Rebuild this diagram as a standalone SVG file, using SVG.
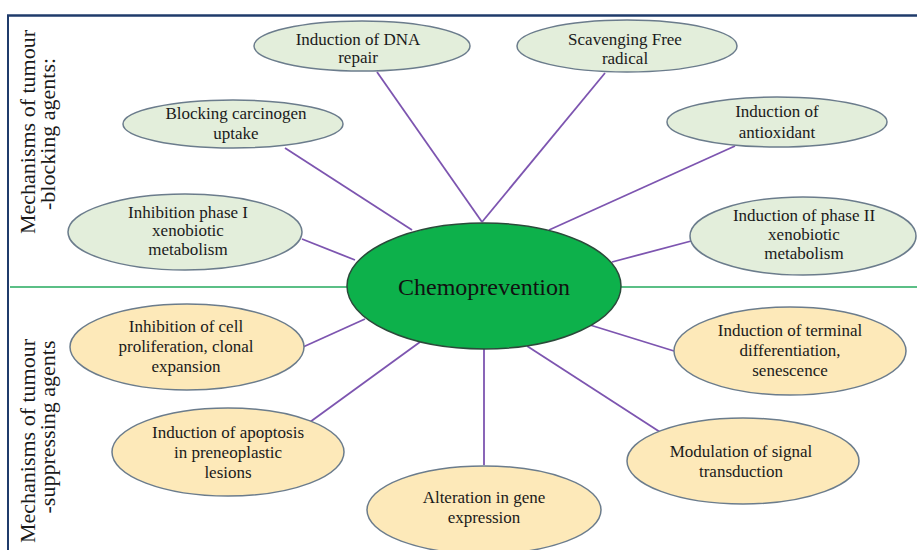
<svg xmlns="http://www.w3.org/2000/svg" width="917" height="550" viewBox="0 0 917 550">
<style>
.t{font-family:'Liberation Serif','DejaVu Serif',serif;font-size:17px;fill:#1a1a1a;text-anchor:middle}
.side{font-family:'Liberation Serif','DejaVu Serif',serif;font-size:22px;fill:#1a1a1a;text-anchor:middle}
.g{fill:#e3eedb;stroke:#6b7c8c;stroke-width:1.5}
.y{fill:#fde9b9;stroke:#6b7c8c;stroke-width:1.5}
.c line{stroke:#7d55b0;stroke-width:1.8}
</style>
<rect width="917" height="550" fill="#ffffff"/>
<g id="frame">
<line x1="7" y1="15.5" x2="917" y2="15.5" stroke="#1f3b6b" stroke-width="2.5"/>
<line x1="8" y1="15" x2="8" y2="550" stroke="#1f3b6b" stroke-width="2"/>
<line x1="10" y1="287" x2="917" y2="287" stroke="#5bbf86" stroke-width="2"/>
</g>
<g id="labels">
<text class="side" transform="translate(35,132) rotate(-90)">Mechanisms of tumour</text>
<text class="side" transform="translate(55,134) rotate(-90)">-blocking agents:</text>
<text class="side" transform="translate(35,441) rotate(-90)">Mechanisms of tumour</text>
<text class="side" transform="translate(55,427) rotate(-90)">-suppressing agents</text>
</g>
<g class="c" id="connectors">
<line x1="377" y1="72" x2="482" y2="222"/>
<line x1="605" y1="73" x2="482" y2="222"/>
<line x1="285" y1="148" x2="412" y2="230"/>
<line x1="735" y1="146" x2="549" y2="230"/>
<line x1="302" y1="239" x2="355" y2="260"/>
<line x1="695" y1="240" x2="612" y2="262"/>
<line x1="303" y1="347" x2="365" y2="319"/>
<line x1="310" y1="422" x2="420" y2="342"/>
<line x1="484" y1="348" x2="484" y2="465"/>
<line x1="590" y1="325" x2="674" y2="351"/>
<line x1="527" y1="346" x2="660" y2="432"/>
</g>
<g id="n-dna"><ellipse class="g" cx="362" cy="46" rx="108" ry="25"/><text class="t" x="358" y="45">Induction of DNA</text><text class="t" x="358" y="63">repair</text></g>
<g id="n-scav"><ellipse class="g" cx="627" cy="46" rx="110" ry="26"/><text class="t" x="625" y="45">Scavenging Free</text><text class="t" x="625" y="64">radical</text></g>
<g id="n-block"><ellipse class="g" cx="233" cy="124" rx="110" ry="24"/><text class="t" x="236" y="119">Blocking carcinogen</text><text class="t" x="236" y="139">uptake</text></g>
<g id="n-antiox"><ellipse class="g" cx="777" cy="122" rx="110" ry="25"/><text class="t" x="777" y="117">Induction of</text><text class="t" x="777" y="138">antioxidant</text></g>
<g id="n-phase1"><ellipse class="g" cx="185" cy="232" rx="117" ry="38"/><text class="t" x="188" y="218">Inhibition phase I</text><text class="t" x="188" y="236">xenobiotic</text><text class="t" x="188" y="255">metabolism</text></g>
<g id="n-phase2"><ellipse class="g" cx="803" cy="236" rx="113" ry="39"/><text class="t" x="804" y="221">Induction of phase II</text><text class="t" x="804" y="240">xenobiotic</text><text class="t" x="804" y="259">metabolism</text></g>
<g id="n-center"><ellipse cx="484" cy="286" rx="137" ry="63" fill="#0db14b" stroke="#2b4a3a" stroke-width="1.5"/><text x="484" y="295" style="font-family:'Liberation Serif','DejaVu Serif',serif;font-size:24px;fill:#111;text-anchor:middle">Chemoprevention</text></g>
<g id="n-prolif"><ellipse class="y" cx="187" cy="347" rx="117" ry="43"/><text class="t" x="186" y="332">Inhibition of cell</text><text class="t" x="186" y="352">proliferation, clonal</text><text class="t" x="186" y="372">expansion</text></g>
<g id="n-apop"><ellipse class="y" cx="228" cy="452" rx="116" ry="44"/><text class="t" x="228" y="438">Induction of apoptosis</text><text class="t" x="228" y="458">in preneoplastic</text><text class="t" x="228" y="478">lesions</text></g>
<g id="n-gene"><ellipse class="y" cx="484" cy="510" rx="117" ry="44"/><text class="t" x="484" y="503">Alteration in gene</text><text class="t" x="484" y="523">expression</text></g>
<g id="n-term"><ellipse class="y" cx="790" cy="351" rx="116" ry="44"/><text class="t" x="790" y="336">Induction of terminal</text><text class="t" x="790" y="356">differentiation,</text><text class="t" x="790" y="376">senescence</text></g>
<g id="n-signal"><ellipse class="y" cx="743" cy="461" rx="116" ry="43"/><text class="t" x="741" y="457">Modulation of signal</text><text class="t" x="741" y="477">transduction</text></g>
</svg>
